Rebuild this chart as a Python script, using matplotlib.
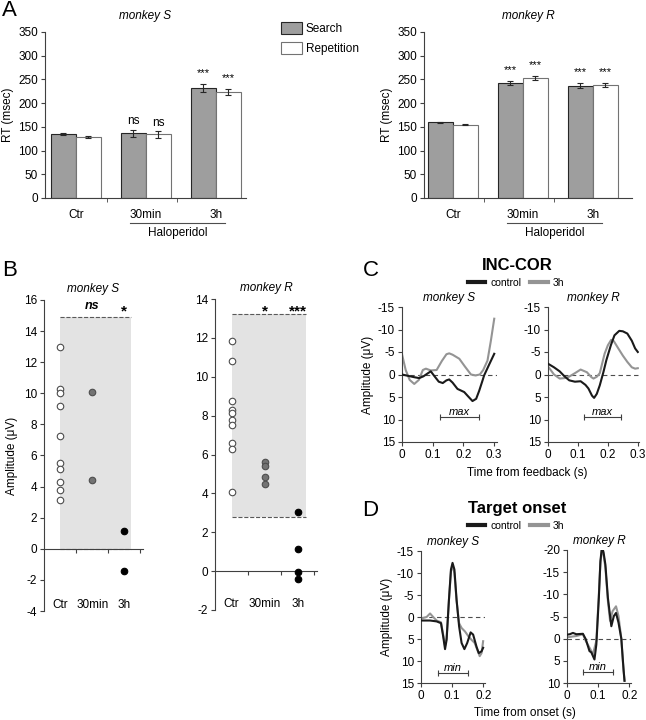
import matplotlib.pyplot as plt
import matplotlib.transforms as mtransforms
import numpy as np
from matplotlib.lines import Line2D

plt.rcParams['font.family'] = ['Liberation Sans', 'DejaVu Sans']
plt.rcParams['font.size'] = 8.5
plt.rcParams['axes.titlesize'] = 8.5
plt.rcParams['axes.linewidth'] = 0.8
plt.rcParams['axes.unicode_minus'] = False
plt.rcParams['xtick.major.width'] = 0.8
plt.rcParams['ytick.major.width'] = 0.8

# Panel A: reaction times (msec)
rt_groups = ['Ctr', '30min', '3h']
rt_s_search = [135, 136, 232]
rt_s_search_err = [2, 8, 8]
rt_s_rep = [128, 134, 224]
rt_s_rep_err = [2, 7, 6]
rt_s_sig = ['', 'ns', '***']
rt_r_search = [160, 243, 237]
rt_r_search_err = [1, 4, 5]
rt_r_rep = [154, 253, 238]
rt_r_rep_err = [1, 5, 5]
rt_r_sig = ['', '***', '***']

# Panel B: amplitudes (uV) per session
amp_groups = ['Ctr', '30min', '3h']
amp_s_ctr = [13.0, 10.3, 10.0, 9.2, 7.25, 5.5, 5.15, 4.3, 3.8, 3.15]
amp_s_30min = [10.1, 4.4]
amp_s_3h = [1.15, -1.4]
amp_s_band = [0.0, 14.9]
amp_s_sig = ['', 'ns', '*']
amp_r_ctr = [11.85, 10.8, 8.75, 8.3, 8.15, 7.8, 7.5, 6.6, 6.3, 4.05]
amp_r_30min = [5.6, 5.4, 4.85, 4.5]
amp_r_3h = [3.05, 1.15, -0.05, -0.4]
amp_r_band = [2.8, 13.25]
amp_r_sig = ['', '*', '***']

# Panel C: INC-COR, time from feedback (s) / amplitude (uV)
inc_s_ctrl_t = [0.0, 0.02, 0.04, 0.056, 0.07, 0.085, 0.094, 0.105, 0.12, 0.133, 0.145, 0.154, 0.165, 0.181, 0.203, 0.215, 0.23, 0.242, 0.252, 0.262, 0.268, 0.285, 0.301]
inc_s_ctrl_v = [0.0, 0.3, 0.6, 0.8, 0.4, -0.3, -0.7, 0.3, 1.6, 1.9, 1.3, 1.1, 1.8, 3.2, 3.9, 4.8, 5.9, 5.4, 3.6, 1.5, 0.2, -2.3, -4.6]
inc_s_3h_t = [0.0, 0.012, 0.025, 0.04, 0.055, 0.068, 0.078, 0.094, 0.113, 0.13, 0.145, 0.154, 0.165, 0.187, 0.205, 0.225, 0.24, 0.254, 0.265, 0.279, 0.29, 0.301]
inc_s_3h_v = [-4.5, -1.0, 1.2, 2.1, 1.2, -1.0, -1.3, -0.9, -1.0, -3.0, -4.5, -4.7, -4.4, -3.5, -1.8, 0.0, 0.2, 0.0, -1.0, -3.1, -7.5, -12.4]
inc_r_ctrl_t = [0.0, 0.02, 0.039, 0.055, 0.071, 0.09, 0.109, 0.125, 0.135, 0.147, 0.154, 0.163, 0.173, 0.185, 0.195, 0.21, 0.222, 0.238, 0.25, 0.265, 0.28, 0.291, 0.3]
inc_r_ctrl_v = [-2.4, -1.6, -0.7, 0.4, 1.3, 1.6, 1.5, 2.3, 3.1, 4.7, 5.2, 4.3, 2.4, -0.5, -3.2, -6.5, -8.7, -9.7, -9.6, -9.1, -7.5, -5.8, -5.0]
inc_r_3h_t = [0.0, 0.02, 0.039, 0.055, 0.07, 0.09, 0.109, 0.13, 0.145, 0.152, 0.163, 0.173, 0.189, 0.2, 0.211, 0.22, 0.232, 0.25, 0.265, 0.28, 0.291, 0.3]
inc_r_3h_v = [-1.8, 0.0, 0.9, 0.8, 0.5, -0.3, -1.1, -0.5, 0.6, 0.9, 0.5, -0.3, -4.6, -6.5, -7.7, -7.4, -6.1, -4.2, -2.8, -1.6, -1.3, -1.4]
inc_s_window = [0.125, 0.25]
inc_r_window = [0.12, 0.245]

# Panel D: target onset
tgt_s_ctrl_t = [0.0, 0.0075, 0.029, 0.05, 0.064, 0.071, 0.077, 0.082, 0.0895, 0.096, 0.101, 0.107, 0.114, 0.122, 0.13, 0.139, 0.148, 0.159, 0.167, 0.178, 0.185, 0.194, 0.199]
tgt_s_ctrl_v = [0.8, 0.8, 0.8, 1.0, 1.4, 4.4, 7.3, 5.2, -3.9, -10.8, -12.3, -10.8, -3.9, 2.1, 5.9, 7.3, 5.9, 3.5, 4.0, 6.8, 8.2, 7.8, 7.0]
tgt_s_3h_t = [0.0, 0.0075, 0.018, 0.029, 0.039, 0.05, 0.064, 0.071, 0.077, 0.082, 0.0895, 0.096, 0.101, 0.107, 0.114, 0.122, 0.13, 0.141, 0.152, 0.162, 0.172, 0.18, 0.188, 0.194, 0.199]
tgt_s_3h_v = [0.3, 0.2, 0.0, -0.8, 0.0, 0.8, 1.2, 4.0, 6.5, 4.8, -3.9, -10.4, -11.7, -10.0, -3.6, 1.4, 2.5, 3.3, 4.4, 5.2, 5.9, 7.4, 8.9, 8.2, 5.5]
tgt_r_ctrl_t = [0.0, 0.009, 0.019, 0.03, 0.051, 0.06, 0.072, 0.078, 0.088, 0.094, 0.102, 0.107, 0.112, 0.117, 0.123, 0.131, 0.142, 0.15, 0.157, 0.165, 0.174, 0.179, 0.184]
tgt_r_ctrl_v = [-0.9, -1.0, -1.3, -1.0, -1.1, 0.1, 2.8, 3.1, 4.7, 1.3, -9.2, -17.5, -20.7, -19.5, -16.7, -9.2, -2.8, -5.1, -5.8, -3.6, 0.0, 4.9, 9.5]
tgt_r_3h_t = [0.0, 0.009, 0.03, 0.051, 0.06, 0.075, 0.083, 0.094, 0.102, 0.107, 0.112, 0.117, 0.123, 0.131, 0.138, 0.146, 0.157, 0.165, 0.174, 0.181, 0.185]
tgt_r_3h_v = [-0.3, -0.4, -0.6, -1.0, 0.5, 2.4, 3.5, 0.5, -10.0, -17.0, -20.2, -19.0, -16.0, -8.5, -4.0, -6.2, -7.3, -5.1, 0.0, 7.2, 9.5]
tgt_s_window = [0.055, 0.151]
tgt_r_window = [0.051, 0.147]

W, H = 646.0, 720.0


def box(x0, y0, x1, y1):
	# pixel box (left, top, right, bottom) -> figure fraction
	return [x0 / W, 1 - y1 / H, (x1 - x0) / W, (y1 - y0) / H]


def plain_spines(ax):
	for side in ['top', 'right']:
		ax.spines[side].set_visible(False)
	ax.spines['left'].set_color('0.25')
	ax.spines['bottom'].set_color('0.25')
	ax.tick_params(length = 3, color = '0.25', pad = 2)


def plot_rt(ax, search, search_err, rep, rep_err, sig, title, xlim):
	x = np.arange(len(rt_groups))
	w = 0.357
	ekw = dict(elinewidth = 0.8, capthick = 0.8, ecolor = '0.15')
	b1 = ax.bar(x - w / 2, search, w, yerr = search_err, color = '0.62', edgecolor = '0.15',
		linewidth = 0.8, capsize = 2.5, error_kw = ekw)
	b2 = ax.bar(x + w / 2, rep, w, yerr = rep_err, color = 'white', edgecolor = '0.45',
		linewidth = 0.8, capsize = 2.5, error_kw = ekw)
	for i, s in enumerate(sig):
		if not s:
			continue
		off = 5 if s == 'ns' else 12
		fs = 8.5 if s == 'ns' else 8
		ax.text(x[i] - w / 2, search[i] + search_err[i] + off, s, ha = 'center', va = 'bottom', fontsize = fs)
		ax.text(x[i] + w / 2, rep[i] + rep_err[i] + off, s, ha = 'center', va = 'bottom', fontsize = fs)
	plain_spines(ax)
	ax.set_xlim(xlim)
	ax.set_ylim(0, 350)
	ax.set_yticks(np.arange(0, 351, 50))
	ax.set_xticks(x)
	ax.set_xticklabels(rt_groups)
	ax.tick_params(axis = 'x', length = 0, pad = 8)
	ax.set_xticks([0.45, 1.45], minor = True)
	ax.tick_params(axis = 'x', which = 'minor', length = 3, color = '0.25')
	ax.set_ylabel('RT (msec)', labelpad = 3)
	ax.set_title(title, style = 'italic', pad = 9)
	ax.plot([0.77, 2.13], [-53, -53], color = '0.3', lw = 0.8, clip_on = False)
	ax.text(1.45, -73, 'Haloperidol', ha = 'center', va = 'center')
	return b1, b2


def plot_amp(ax, ctr, m30, h3, band, sig, sig_y, title, ylim, band_right):
	ax.fill_between([1, band_right], band[0], band[1], color = '#e3e3e3', lw = 0, zorder = 0)
	ax.hlines(band, 1, band_right, colors = '0.35', linestyles = '--', lw = 0.8, zorder = 1)
	ax.scatter(np.full(len(ctr), 1), ctr, s = 22, facecolor = 'white', edgecolor = '0.3', lw = 0.8, zorder = 3)
	ax.scatter(np.full(len(m30), 2), m30, s = 22, facecolor = '0.45', edgecolor = '0.3', lw = 0.8, zorder = 3)
	ax.scatter(np.full(len(h3), 3), h3, s = 22, facecolor = 'black', edgecolor = 'black', lw = 0.8, zorder = 3)
	plain_spines(ax)
	ax.spines['bottom'].set_position(('data', 0))
	ax.set_xlim(0.5, 3.58)
	ax.set_ylim(ylim)
	ax.set_yticks(np.arange(ylim[0], ylim[1] + 1, 2))
	ax.set_xticks([1.5, 2.5, 3.5])
	ax.set_xticklabels([])
	trans = mtransforms.blended_transform_factory(ax.transData, ax.transAxes)
	for i, g in enumerate(amp_groups):
		ax.text(i + 1, 0.02, g, transform = trans, ha = 'center', va = 'center')
	for i, s in enumerate(sig):
		if s == 'ns':
			ax.text(i + 1, sig_y, s, ha = 'center', va = 'center', fontsize = 9, style = 'italic', weight = 'bold')
		elif s:
			ax.text(i + 1, sig_y - 0.35, s, ha = 'center', va = 'center', fontsize = 11, weight = 'bold')
	ax.set_title(title, style = 'italic', pad = 6)


def plot_erp(ax, tc, vc, t3, v3, window, wlabel, wy, title, xlim, ylim, yticks, xticks, xlabels):
	ax.axhline(0, color = '0.3', lw = 0.8, ls = (0, (4, 3)), zorder = 1)
	ax.plot(t3, v3, color = '0.58', lw = 1.5, zorder = 2)
	ax.plot(tc, vc, color = '0.1', lw = 1.5, zorder = 3)
	ax.plot(window, [wy, wy], color = '0.25', lw = 0.8, marker = '|', markersize = 4, markeredgewidth = 0.8)
	ax.text(np.mean(window), wy, wlabel, style = 'italic', ha = 'center', va = 'bottom', fontsize = 8)
	plain_spines(ax)
	ax.set_xlim(xlim)
	ax.set_ylim(ylim)
	ax.set_yticks(yticks)
	ax.set_xticks(xticks)
	ax.set_xticklabels(xlabels)
	ax.set_title(title, style = 'italic', pad = 4)


fig = plt.figure(figsize = (6.46, 7.2), dpi = 100)

# A
ax_a1 = fig.add_axes(box(45, 32, 246, 198))
bars = plot_rt(ax_a1, rt_s_search, rt_s_search_err, rt_s_rep, rt_s_rep_err, rt_s_sig, 'monkey S', (-0.44, 2.43))
ax_a2 = fig.add_axes(box(424, 32, 632, 198))
plot_rt(ax_a2, rt_r_search, rt_r_search_err, rt_r_rep, rt_r_rep_err, rt_r_sig, 'monkey R', (-0.41, 2.56))
fig.legend(bars, ['Search', 'Repetition'], loc = 'upper left', bbox_to_anchor = (281 / W, 1 - 22 / H),
	frameon = False, fontsize = 8.5, handlelength = 1.8, handleheight = 1.2, labelspacing = 0.6,
	handletextpad = 0.3, borderpad = 0, borderaxespad = 0)

# B
ax_b1 = fig.add_axes(box(44, 300, 143, 611))
plot_amp(ax_b1, amp_s_ctr, amp_s_30min, amp_s_3h, amp_s_band, amp_s_sig, 15.6, 'monkey S', (-4, 16), 3.21)
ax_b1.set_ylabel('Amplitude (\u03bcV)')
ax_b2 = fig.add_axes(box(215, 299, 317, 610))
plot_amp(ax_b2, amp_r_ctr, amp_r_30min, amp_r_3h, amp_r_band, amp_r_sig, 13.7, 'monkey R', (-2, 14), 3.24)

# C
c_ticks = [-15, -10, -5, 0, 5, 10, 15]
ax_c1 = fig.add_axes(box(402, 307, 497, 442))
plot_erp(ax_c1, inc_s_ctrl_t, inc_s_ctrl_v, inc_s_3h_t, inc_s_3h_v, inc_s_window, 'max', 9.5, 'monkey S',
	(0, 0.31), (15, -15), c_ticks, [0, 0.1, 0.2, 0.3], ['0', '0.1', '0.2', '0.3'])
ax_c1.set_ylabel('Amplitude (\u03bcV)', labelpad = 3)
ax_c2 = fig.add_axes(box(548, 307, 639, 442))
plot_erp(ax_c2, inc_r_ctrl_t, inc_r_ctrl_v, inc_r_3h_t, inc_r_3h_v, inc_r_window, 'max', 9.5, 'monkey R',
	(0, 0.304), (15, -15), c_ticks, [0, 0.1, 0.2, 0.3], ['0', '0.1', '0.2', '0.3'])

# D
ax_d1 = fig.add_axes(box(421, 551, 485, 683))
plot_erp(ax_d1, tgt_s_ctrl_t, tgt_s_ctrl_v, tgt_s_3h_t, tgt_s_3h_v, tgt_s_window, 'min', 12.7, 'monkey S',
	(0, 0.205), (15, -15), c_ticks, [0, 0.1, 0.2], ['0', '0.1', '0.2'])
ax_d1.set_ylabel('Amplitude (\u03bcV)', labelpad = 3)
ax_d2 = fig.add_axes(box(567, 550, 631, 683))
plot_erp(ax_d2, tgt_r_ctrl_t, tgt_r_ctrl_v, tgt_r_3h_t, tgt_r_3h_v, tgt_r_window, 'min', 7.5, 'monkey R',
	(0, 0.205), (10, -20), [-20, -15, -10, -5, 0, 5, 10], [0, 0.1, 0.2], ['0', '0.1', '0.2'])

# shared titles, legends and labels of C and D
erp_handles = [Line2D([], [], color = '0.1', lw = 3), Line2D([], [], color = '0.58', lw = 3)]
for y_title, title, y_leg in [(265, 'INC-COR', 283), (509, 'Target onset', 526)]:
	fig.text(517 / W, 1 - y_title / H, title, ha = 'center', va = 'center', fontsize = 12, weight = 'bold')
	fig.legend(erp_handles, ['control', '3h'], loc = 'center', bbox_to_anchor = (516 / W, 1 - y_leg / H),
		ncol = 2, frameon = False, fontsize = 7.5, handlelength = 1.7, handletextpad = 0.5,
		columnspacing = 0.8, borderpad = 0, borderaxespad = 0)
fig.text(527 / W, 1 - 473 / H, 'Time from feedback (s)', ha = 'center', va = 'center')
fig.text(525 / W, 1 - 713 / H, 'Time from onset (s)', ha = 'center', va = 'center')

# panel letters
for x, y, letter in [(2, 10, 'A'), (2, 270, 'B'), (363, 271, 'C'), (362, 511, 'D')]:
	fig.text(x / W, 1 - y / H, letter, ha = 'left', va = 'center', fontsize = 16)

fig.savefig('out.png', dpi = 100)
